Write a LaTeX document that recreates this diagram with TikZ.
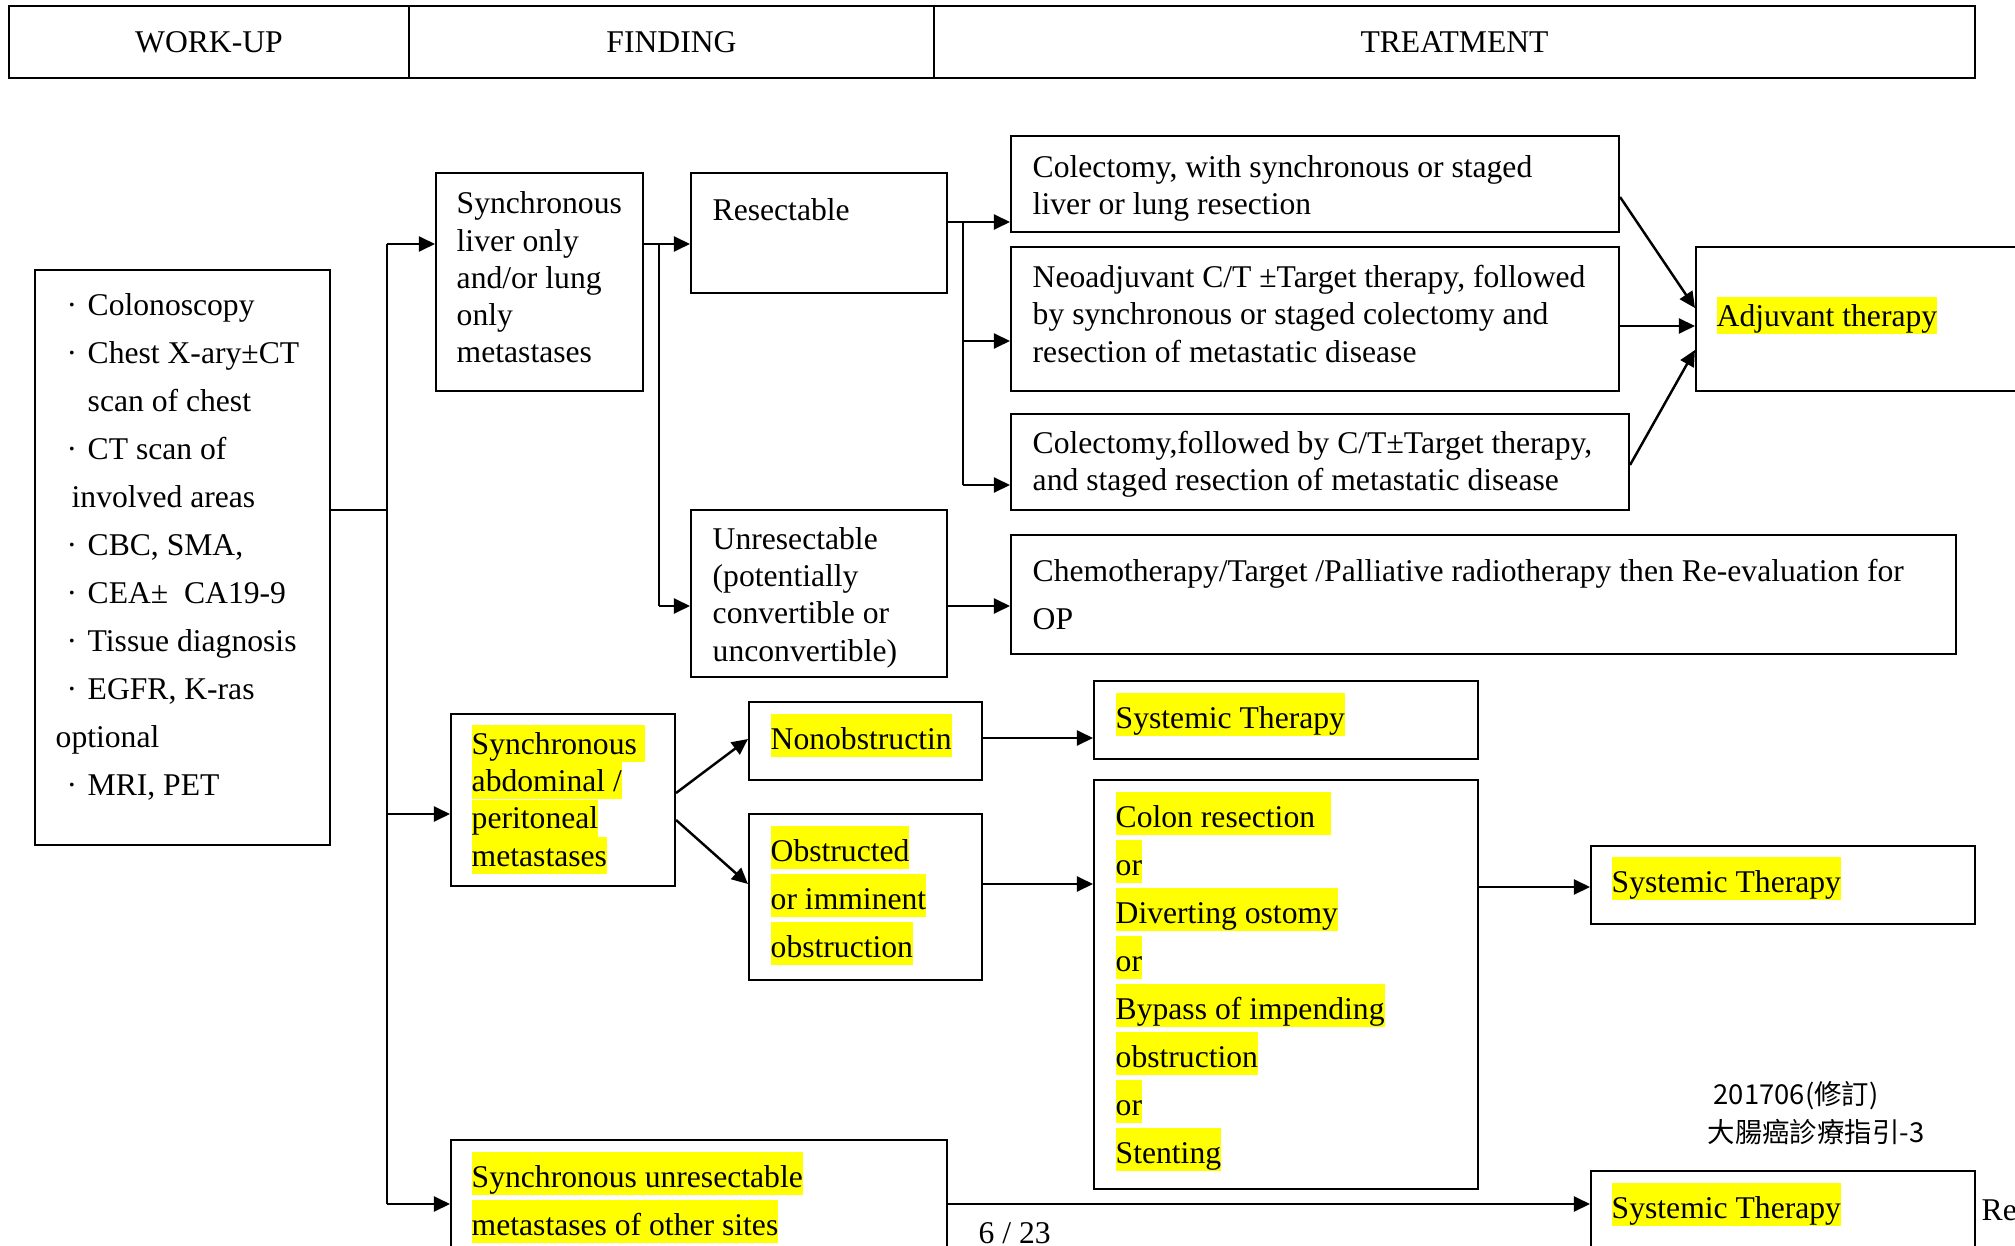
\documentclass[tikz,border=0pt]{standalone}
\usepackage{fontspec}
\setmainfont{Liberation Serif}
\newfontfamily\cjkfont{Noto Sans CJK TC}
\usetikzlibrary{arrows.meta,fit}
\definecolor{hlyellow}{HTML}{FFFF00}
% resaltado amarillo por renglon
\newcommand{\hl}[2][0.43cm]{{\setlength{\fboxsep}{0pt}\colorbox{hlyellow}{\rule[-0.08cm]{0pt}{#1}#2}}}
\newcommand{\bul}{\makebox[2.1mm][l]{·}}

\begin{document}
\begin{tikzpicture}[x=0.1mm, y=-0.1mm,
    box/.style={draw, line width=0.6pt, inner sep=0pt},
    txt/.style={anchor=base west, inner sep=0pt, align=left, font=\fontsize{9pt}{0.373cm}\selectfont},
    txtw/.style={txt, font=\fontsize{9pt}{0.48cm}\selectfont},
    head/.style={inner sep=0pt, font=\fontsize{9pt}{11pt}\selectfont},
    ln/.style={line width=0.7pt},
    arr/.style={ln, -{Triangle[length=1.6mm, width=1.5mm]}}]
  \useasboundingbox (0,0) rectangle (2015,1246);

  % Encabezado
  \node[box, line width=0.8pt, fit={(9,6) (409,78)}] (hwork) {};
  \node[box, line width=0.8pt, fit={(409,6) (934,78)}] (hfind) {};
  \node[box, line width=0.8pt, fit={(934,6) (1975,78)}] (htreat) {};
  \node[head] (hworkT) at (hwork.center) {WORK-UP};
  \node[head] (hfindT) at (hfind.center) {FINDING};
  \node[head] (htreatT) at (htreat.center) {TREATMENT};

  % Cajas
  \node[box, fit={(35,270) (330,845)}] (workup) {};
  \node[box, fit={(436,173) (643,391)}] (liver) {};
  \node[box, fit={(691,173) (947,293)}] (resect) {};
  \node[box, fit={(691,510) (947,677)}] (unres) {};
  \node[box, fit={(1011,136) (1619,232)}] (colec1) {};
  \node[box, fit={(1011,247) (1619,391)}] (neo) {};
  \node[box, fit={(1011,414) (1629,510)}] (colec2) {};
  \node[box, fit={(1011,535) (1956,654)}] (chemo) {};
  \node[box, fit={(1696,247) (2040,391)}] (adjuv) {};
  \node[box, fit={(451,714) (675,886)}] (abdo) {};
  \node[box, fit={(749,702) (982,780)}] (nonob) {};
  \node[box, fit={(749,814) (982,980)}] (obstr) {};
  \node[box, fit={(1094,681) (1478,759)}] (syst1) {};
  \node[box, fit={(1094,780) (1478,1189)}] (colon) {};
  \node[box, fit={(1591,846) (1975,924)}] (syst2) {};
  \node[box, fit={(451,1140) (947,1270)}] (other) {};
  \node[box, fit={(1591,1171) (1975,1270)}] (syst3) {};

  % Textos (anclados en la linea base del ultimo renglon)
  \node[txtw] (workupT) at (55,795) {\hspace*{1.1mm}\bul Colonoscopy\\
    \hspace*{1.1mm}\bul Chest X-ary±CT\\
    \hspace*{3.2mm}scan of chest\\
    \hspace*{1.1mm}\bul CT scan of\\
    \hspace*{1.6mm}involved areas\\
    \hspace*{1.1mm}\bul CBC, SMA,\\
    \hspace*{1.1mm}\bul CEA±\ \ CA19-9\\
    \hspace*{1.1mm}\bul Tissue diagnosis\\
    \hspace*{1.1mm}\bul EGFR, K-ras\\
    optional\\
    \hspace*{1.1mm}\bul MRI, PET};
  \node[txt] (liverT) at (456,363) {Synchronous\\liver only\\and/or lung\\only\\metastases};
  \node[txt] (resectT) at (712,221) {Resectable};
  \node[txt] (unresT) at (712,661) {Unresectable\\(potentially\\convertible or\\unconvertible)};
  \node[txt] (colec1T) at (1032,215) {Colectomy, with synchronous or staged\\liver or lung resection};
  \node[txt] (neoT) at (1032,362) {Neoadjuvant C/T ±Target therapy, followed\\by synchronous or staged colectomy and\\resection of metastatic disease};
  \node[txt] (colec2T) at (1032,491) {Colectomy,followed by C/T±Target therapy,\\and staged resection of metastatic disease};
  \node[txtw] (chemoT) at (1032,629) {Chemotherapy/Target /Palliative radiotherapy then Re-evaluation for\\OP};
  \node[txt] (adjuvT) at (1716,326) {\hl[0.37cm]{Adjuvant therapy}};
  \node[txt] (abdoT) at (471,866) {\hl[0.37cm]{Synchronous\ }\\\hl[0.37cm]{abdominal /}\\\hl[0.37cm]{peritoneal}\\\hl[0.37cm]{metastases}};
  \node[txt] (nonobT) at (770,749) {\hl{Nonobstructin}};
  \node[txtw] (obstrT) at (770,957) {\hl{Obstructed}\\\hl{or imminent}\\\hl{obstruction}};
  \node[txt] (syst1T) at (1115,728) {\hl{Systemic Therapy}};
  \node[txtw] (colonT) at (1115,1163) {\hl{Colon resection\ \ }\\\hl{or}\\\hl{Diverting ostomy}\\\hl{or}\\\hl{Bypass of impending}\\\hl{obstruction}\\\hl{or}\\\hl{Stenting}};
  \node[txt] (syst2T) at (1611,892) {\hl{Systemic Therapy}};
  \node[txtw] (otherT) at (471,1235) {\hl{Synchronous unresectable}\\\hl{metastases of other sites}};
  \node[txt] (syst3T) at (1611,1218) {\hl{Systemic Therapy}};

  % Pie de pagina
  \node[txt] (page) at (978,1243) {6 / 23};
  \node[txt, font=\cjkfont\fontsize{7.8pt}{9pt}\selectfont] (rev) at (1713,1104) {201706(修訂)};
  \node[txt, font=\cjkfont\fontsize{7.8pt}{9pt}\selectfont] (guide) at (1707,1142) {大腸癌診療指引-3};
  \node[txt] (re) at (1981,1220) {Re};

  % Conectores
  \coordinate (tTop) at (387,244);
  \coordinate (tMid) at (387,510);
  \coordinate (tAbd) at (387,814);
  \coordinate (tBot) at (387,1204);
  \draw[ln] (workup.east |- tMid) -- (tMid);
  \draw[ln] (tTop) -- (tBot);
  \draw[arr] (tTop) -- (liver.west |- tTop);
  \draw[arr] (tAbd) -- (abdo.west |- tAbd);
  \draw[arr] (tBot) -- (other.west |- tBot);

  \coordinate (lTop) at (659,244);
  \coordinate (lBot) at (659,606);
  \draw[arr] (liver.east |- lTop) -- (resect.west |- lTop);
  \draw[ln] (lTop) -- (lBot);
  \draw[arr] (lBot) -- (unres.west |- lBot);
  \draw[arr] (unres.east |- lBot) -- (chemo.west |- lBot);

  \coordinate (rTop) at (963,222);
  \coordinate (rMid) at (963,341);
  \coordinate (rBot) at (963,485);
  \draw[arr] (resect.east |- rTop) -- (colec1.west |- rTop);
  \draw[ln] (rTop) -- (rBot);
  \draw[arr] (rMid) -- (neo.west |- rMid);
  \draw[arr] (rBot) -- (colec2.west |- rBot);

  \draw[arr] (colec1.east |- 0,197) -- (adjuv.west |- 0,308);
  \draw[arr] (neo.east |- 0,326) -- (adjuv.west |- 0,326);
  \draw[arr] (colec2.east |- 0,465) -- (adjuv.west |- 0,350);

  \draw[arr] (abdo.east |- 0,793) -- (nonob.west |- 0,739);
  \draw[arr] (abdo.east |- 0,820) -- (obstr.west |- 0,884);
  \draw[arr] (nonob.east |- 0,738) -- (syst1.west |- 0,738);
  \draw[arr] (obstr.east |- 0,884) -- (colon.west |- 0,884);
  \draw[arr] (colon.east |- 0,887) -- (syst2.west |- 0,887);
  \draw[arr] (other.east |- tBot) -- (syst3.west |- tBot);
\end{tikzpicture}
\end{document}
